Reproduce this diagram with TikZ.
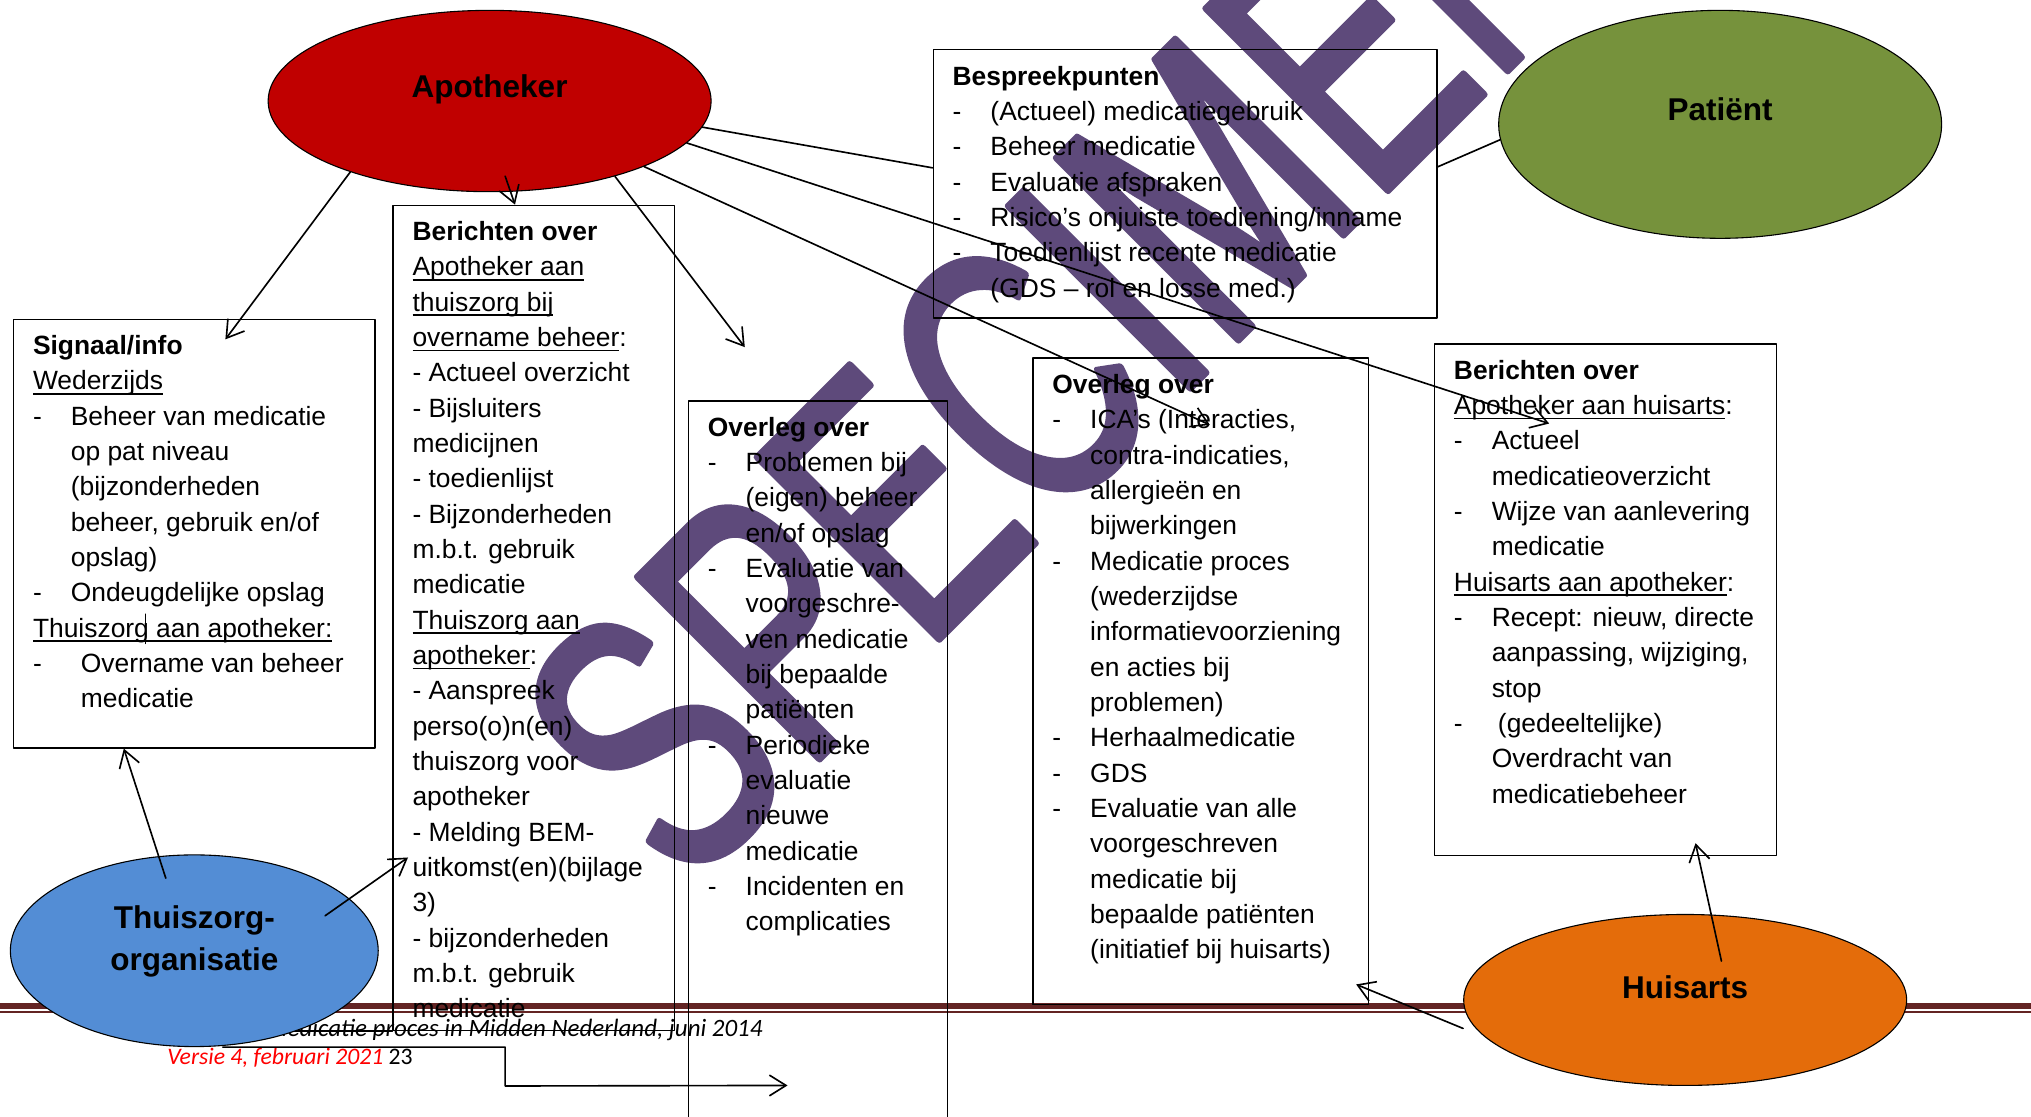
\documentclass[tikz,border=0pt]{standalone}
\usepackage{fontspec}
\setmainfont{Liberation Sans}
\newfontfamily\voetfont{Carlito}
\newfontfamily\specfont[FakeBold=2]{Liberation Sans}
\usepackage{tikz}
\usetikzlibrary{calc}
\usetikzlibrary{arrows.meta}
\usetikzlibrary{shapes.geometric}
\definecolor{apored}{RGB}{192,0,0}
\definecolor{patgreen}{RGB}{118,146,60}
\definecolor{tzblue}{RGB}{83,141,213}
\definecolor{huiorange}{RGB}{228,108,10}
\definecolor{bandred}{RGB}{99,36,35}
\definecolor{specpurple}{RGB}{94,74,123}
\definecolor{versred}{RGB}{255,0,0}
\newcommand{\itm}{\makebox[0.73cm][l]{-}}
\newcommand{\ins}{\hspace*{0.73cm}}
\newcommand{\eerste}{\rule{0pt}{11pt}}
\newcommand{\ond}[1]{\setbox0=\hbox{#1}\rlap{\rule[-2.6pt]{\wd0}{0.85pt}}\box0}
\tikzset{actor/.style={ellipse,draw=black,line width=0.6pt,inner sep=0pt}}
\tikzset{actorlabel/.style={font=\fontsize{17.3}{23.4}\selectfont\bfseries,align=center,inner sep=0pt}}
\tikzset{infobox/.style={draw=black,line width=0.7pt,anchor=north west,inner sep=0pt}}
\tikzset{infotext/.style={anchor=north west,align=left,inner sep=0pt,font=\fontsize{14.5}{19.4}\selectfont}}
\tikzset{link/.style={line width=0.9pt}}
\tikzset{voet/.style={inner sep=0pt,font=\voetfont\itshape\fontsize{13}{15}\selectfont}}
\tikzset{specimen/.style={inner sep=0pt,text=specpurple,rotate=45,xscale=0.68,font=\specfont\fontsize{205}{205}\selectfont}}

\begin{document}
\begin{tikzpicture}[line cap=round,line join=round,>={Straight Barb[length=3.2mm,width=4mm]},x=1.0cm,y=1.0cm]
            \useasboundingbox (0.,0.) rectangle (39.2,21.55);
            \clip (0.,0.) rectangle (39.2,21.55);
            \fill[white] (0.,0.) rectangle (39.2,21.55);
            \node[specimen] (wmark) at (20.5,15.1) {SPECIMEN};
            \draw[bandred,line width=0.125cm,line cap=butt] (0.,2.1375) -- (39.2,2.1375);
            \draw[bandred,line width=0.04cm,line cap=butt] (0.,2.0125) -- (39.2,2.0125);
            \node[infobox,minimum width=6.975cm,minimum height=8.275cm] (sig) at (0.25,15.4) {};
            \node[infobox,minimum width=5.425cm,minimum height=15.925cm] (berL) at (7.575,17.6) {};
            \node[infobox,minimum width=5.0cm,minimum height=14.5cm] (ovL) at (13.275,13.825) {};
            \node[infobox,minimum width=9.725cm,minimum height=5.175cm] (bsp) at (18.0,20.6) {};
            \node[infobox,minimum width=6.475cm,minimum height=12.475cm] (ovR) at (19.925,14.65) {};
            \node[infobox,minimum width=6.6cm,minimum height=9.875cm] (berR) at (27.675,14.925) {};
            \draw[line width=0.7pt] (berL.south west) -- ++(-3.3,0.);
            \node[voet,anchor=base east,font=\voetfont\itshape\fontsize{13.7}{15}\selectfont] (voet1) at (14.725,1.55) {Medicatie proces in Midden Nederland, juni 2014};
            \node[voet,anchor=base west] (voet2) at (3.225,1.0) {\textcolor{versred}{Versie 4, februari 2021} \upshape 23};
            \node[actor,fill=apored,minimum width=8.55cm,minimum height=3.5cm] (apo) at (9.45,19.6) {};
            \node[actor,fill=patgreen,minimum width=8.55cm,minimum height=4.4cm] (pat) at (33.2,19.15) {};
            \node[actor,fill=tzblue,minimum width=7.1cm,minimum height=3.7cm] (tz) at (3.75,3.2) {};
            \node[actor,fill=huiorange,minimum width=8.55cm,minimum height=3.3cm] (hui) at (32.525,2.25) {};
            \node[actorlabel] (apoL) at ([yshift=0.225cm]apo.center) {Apotheker};
            \node[actorlabel] (patL) at ([yshift=0.3cm]pat.center) {Patiënt};
            \node[actorlabel] (tzL) at ([yshift=0.18cm]tz.center) {Thuiszorg-\\organisatie};
            \node[actorlabel] (huiL) at ([yshift=0.25cm]hui.center) {Huisarts};
            \node[infotext] (sigT) at ([xshift=0.38cm,yshift=-0.3cm]sig.north west) {\eerste\textbf{Signaal/info}\\
                \ond{Wederzijds}\\
                \itm Beheer van medicatie\\
                \ins op pat niveau\\
                \ins (bijzonderheden\\
                \ins beheer, gebruik en/of\\
                \ins opslag)\\
                \itm Ondeugdelijke opslag\\
                \ond{Thuiszorg aan apotheker:}\\
                \makebox[0.925cm][l]{-}Overname van beheer\\
                \hspace*{0.925cm}medicatie};
            \draw[line width=0.5pt] (2.8,9.7) -- (2.8,9.125);
            \node[infotext] (berLT) at ([xshift=0.38cm,yshift=-0.3cm]berL.north west) {\eerste\textbf{Berichten over}\\
                \ond{Apotheker aan}\\
                \ond{thuiszorg bij}\\
                \ond{overname beheer}:\\
                - Actueel overzicht\\
                - Bijsluiters\\
                medicijnen\\
                - toedienlijst\\
                - Bijzonderheden\\
                m.b.t. gebruik\\
                medicatie\\
                \ond{Thuiszorg aan}\\
                \ond{apotheker}:\\
                - Aanspreek\\
                perso(o)n(en)\\
                thuiszorg voor\\
                apotheker\\
                - Melding BEM-\\
                uitkomst(en)(bijlage\\
                3)\\
                - bijzonderheden\\
                m.b.t. gebruik\\
                medicatie};
            \node[infotext] (ovLT) at ([xshift=0.38cm,yshift=-0.3cm]ovL.north west) {\eerste\textbf{Overleg over}\\
                \itm Problemen bij\\
                \ins (eigen) beheer\\
                \ins en/of opslag\\
                \itm Evaluatie van\\
                \ins voorgeschre-\\
                \ins ven medicatie\\
                \ins bij bepaalde\\
                \ins patiënten\\
                \itm Periodieke\\
                \ins evaluatie\\
                \ins nieuwe\\
                \ins medicatie\\
                \itm Incidenten en\\
                \ins complicaties};
            \node[infotext] (bspT) at ([xshift=0.38cm,yshift=-0.3cm]bsp.north west) {\eerste\textbf{Bespreekpunten}\\
                \itm (Actueel) medicatiegebruik\\
                \itm Beheer medicatie\\
                \itm Evaluatie afspraken\\
                \itm Risico’s onjuiste toediening/inname\\
                \itm Toedienlijst recente medicatie\\
                \ins (GDS – rol en losse med.)};
            \node[infotext] (ovRT) at ([xshift=0.38cm,yshift=-0.3cm]ovR.north west) {\eerste\textbf{Overleg over}\\
                \itm ICA’s (Interacties,\\
                \ins contra-indicaties,\\
                \ins allergieën en\\
                \ins bijwerkingen\\
                \itm Medicatie proces\\
                \ins (wederzijdse\\
                \ins informatievoorziening\\
                \ins en acties bij\\
                \ins problemen)\\
                \itm Herhaalmedicatie\\
                \itm GDS\\
                \itm Evaluatie van alle\\
                \ins voorgeschreven\\
                \ins medicatie bij\\
                \ins bepaalde patiënten\\
                \ins (initiatief bij huisarts)};
            \node[infotext] (berRT) at ([xshift=0.38cm,yshift=-0.3cm]berR.north west) {\eerste\textbf{Berichten over}\\
                \ond{Apotheker aan huisarts}:\\
                \itm Actueel\\
                \ins medicatieoverzicht\\
                \itm Wijze van aanlevering\\
                \ins medicatie\\
                \ond{Huisarts aan apotheker}:\\
                \itm Recept: nieuw, directe\\
                \ins aanpassing, wijziging,\\
                \ins stop\\
                \itm\hspace{0.12cm}(gedeeltelijke)\\
                \ins Overdracht van\\
                \ins medicatiebeheer};
            \coordinate (sigTip) at (4.35,15.0);
            \coordinate (apoLow) at ($(apo.center)+(0.3,-1.45)$);
            \coordinate (ovTip) at (14.375,14.85);
            \coordinate (icaTip) at (23.35,13.35);
            \coordinate (berRTip) at (29.9,13.375);
            \coordinate (tzTop) at ($(tz.center)+(-0.55,1.4)$);
            \coordinate (tzRight) at ($(tz.center)+(2.525,0.675)$);
            \coordinate (melTip) at (7.875,5.0);
            \coordinate (huiTop) at ($(hui.center)+(0.7,0.75)$);
            \coordinate (hrTip) at (32.725,5.275);
            \coordinate (ovRTip) at (26.175,2.55);
            \coordinate (bentTip) at (15.2,0.6);
            \draw[link,->] (apo.207) -- (sigTip);
            \draw[link,->] (apoLow) -- ([xshift=-0.36cm]berL.north);
            \draw[link,->] (apo.-31) -- (ovTip);
            \draw[link,->] (apo.-23) -- (icaTip);
            \draw[link,->] (apo.-12) -- (berRTip);
            \draw[link] (apo.-7) -- ([yshift=0.31cm]bsp.west);
            \draw[link] (pat.184) -- ([yshift=0.33cm]bsp.east);
            \draw[link,->] (tzTop) -- ([xshift=-1.36cm]sig.south);
            \draw[link,->] (tzRight) -- (melTip);
            \draw[link,->] (huiTop) -- (hrTip);
            \draw[link,->] ([yshift=-0.55cm]hui.west) -- (ovRTip);
            \draw[link,->] ([xshift=0.55cm]tz.south) -- ++(5.45,0.) -- ++(0.,-0.75) -- (bentTip);
\end{tikzpicture}
\end{document}
